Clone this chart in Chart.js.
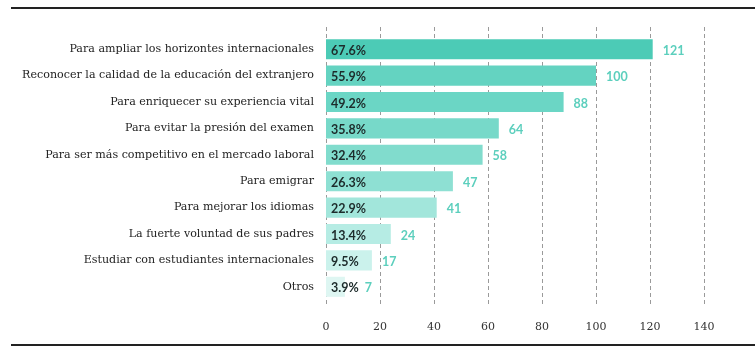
<!DOCTYPE html>
<html><head><meta charset="utf-8">
<script src="https://cdn.jsdelivr.net/npm/chart.js@4/dist/chart.umd.min.js"></script>
<style>html,body{margin:0;padding:0;background:#fff;}#wrap{position:relative;width:755px;height:352px;}</style>
</head><body><div id="wrap"><canvas id="c" width="755" height="352"></canvas></div>
<script>
const categories = [
  "Para ampliar los horizontes internacionales",
  "Reconocer la calidad de la educación del extranjero",
  "Para enriquecer su experiencia vital",
  "Para evitar la presión del examen",
  "Para ser más competitivo en el mercado laboral",
  "Para emigrar",
  "Para mejorar los idiomas",
  "La fuerte voluntad de sus padres",
  "Estudiar con estudiantes internacionales",
  "Otros"
];
const counts = [121, 100, 88, 64, 58, 47, 41, 24, 17, 7];
const percents = ["67.6%", "55.9%", "49.2%", "35.8%", "32.4%", "26.3%", "22.9%", "13.4%", "9.5%", "3.9%"];
const barColors = ["#4ccbb6", "#64d3c1", "#6bd6c5", "#77d9c9", "#81dccd", "#8ee0d3", "#a2e6db", "#b6ece4", "#cbf2ec", "#def6f2"];
const xTicks = [0, 20, 40, 60, 80, 100, 120, 140];

const frame = {
  id: 'frame',
  beforeDraw(chart) {
    const ctx = chart.ctx;
    ctx.save();
    ctx.fillStyle = '#fff';
    ctx.fillRect(0, 0, chart.width, chart.height);
    ctx.strokeStyle = '#222';
    ctx.lineWidth = 2;
    ctx.beginPath();
    ctx.moveTo(11, 8); ctx.lineTo(755, 8);
    ctx.moveTo(11, 345); ctx.lineTo(755, 345);
    ctx.stroke();
    const xs = chart.scales.x;
    const ca = chart.chartArea;
    ctx.strokeStyle = '#9a9a9a';
    ctx.lineWidth = 1;
    ctx.setLineDash([4, 3]);
    xTicks.forEach(v => {
      const px = Math.round(xs.getPixelForValue(v)) + 0.5;
      ctx.beginPath();
      ctx.moveTo(px, ca.top - 9);
      ctx.lineTo(px, ca.bottom + 7);
      ctx.stroke();
    });
    ctx.restore();
  },
  afterDatasetsDraw(chart) {
    const ctx = chart.ctx;
    const meta = chart.getDatasetMeta(0);
    ctx.save();
    ctx.textBaseline = 'middle';
    meta.data.forEach((bar, i) => {
      ctx.font = 'bold 12.5px Lato, sans-serif';
      ctx.fillStyle = '#1d2b2b';
      ctx.textAlign = 'left';
      ctx.fillText(percents[i], bar.base + 5, bar.y + 1.5);
      ctx.fillStyle = '#5ccfbd';
      const pw = ctx.measureText(percents[i]).width;
      const cx = Math.max(bar.x + 10, bar.base + 5 + pw + 6);
      ctx.fillText(String(counts[i]), cx, bar.y + 1.5);
    });
    ctx.restore();
  }
};

new Chart(document.getElementById('c'), {
  type: 'bar',
  data: {
    labels: categories,
    datasets: [{
      data: counts,
      backgroundColor: barColors,
      borderWidth: 0,
      barPercentage: 0.76,
      categoryPercentage: 1.0
    }]
  },
  options: {
    indexAxis: 'y',
    responsive: false,
    animation: false,
    layout: { padding: { top: 36, right: 51, left: 0, bottom: 0 } },
    plugins: { legend: { display: false }, tooltip: { enabled: false } },
    scales: {
      x: {
        min: 0, max: 140,
        afterFit(s) { s.height = 52; },
        afterBuildTicks(s) { s.ticks = xTicks.map(v => ({ value: v })); },
        grid: { display: false, drawTicks: false },
        border: { display: false },
        ticks: { padding: 21, color: '#333', font: { family: '"DejaVu Serif", serif', size: 11 } }
      },
      y: {
        afterFit(s) { s.width = 326; },
        grid: { display: false, drawTicks: false },
        border: { display: false },
        ticks: { padding: 12, color: '#222', font: { family: '"DejaVu Serif", serif', size: 11.1 } }
      }
    }
  },
  plugins: [frame]
});
</script></body></html>
